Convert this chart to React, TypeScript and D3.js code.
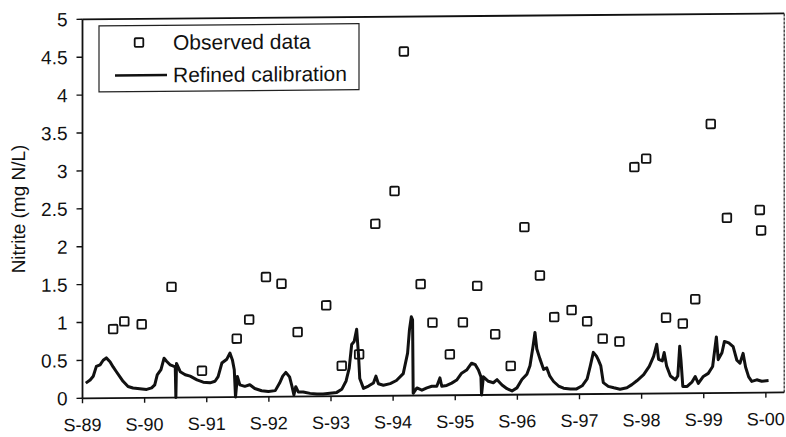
import React from 'react';
import * as d3 from 'd3';

// ---- data ----
const xTickLabels = ['S-89', 'S-90', 'S-91', 'S-92', 'S-93', 'S-94', 'S-95', 'S-96', 'S-97', 'S-98', 'S-99', 'S-00'];
const xTickYears = [1989.667, 1990.667, 1991.667, 1992.667, 1993.667, 1994.667, 1995.667, 1996.667, 1997.667, 1998.667, 1999.667, 2000.667];
const yTicks = [0, 0.5, 1, 1.5, 2, 2.5, 3, 3.5, 4, 4.5, 5];
const yTickLabels = ['0', '0.5', '1', '1.5', '2', '2.5', '3', '3.5', '4', '4.5', '5'];

const obsDates = [1990.16, 1990.34, 1990.62, 1991.10, 1991.59, 1992.15, 1992.35, 1992.62, 1992.87, 1993.13,
  1993.59, 1993.84, 1994.12, 1994.38, 1994.69, 1994.84, 1995.11, 1995.30, 1995.58, 1995.79,
  1996.02, 1996.31, 1996.56, 1996.78, 1997.03, 1997.26, 1997.54, 1997.79, 1998.04, 1998.31,
  1998.55, 1998.74, 1999.06, 1999.33, 1999.53, 1999.78, 2000.04, 2000.57, 2000.59];
const obsValues = [0.91, 1.01, 0.97, 1.46, 0.35, 0.77, 1.02, 1.58, 1.49, 0.85,
  1.20, 0.40, 0.55, 2.27, 2.70, 4.54, 1.47, 0.96, 0.54, 0.96,
  1.44, 0.80, 0.38, 2.21, 1.57, 1.02, 1.11, 0.96, 0.73, 0.69,
  2.99, 3.10, 1.00, 0.92, 1.24, 3.55, 2.31, 2.41, 2.14];

const calDates = [1989.72, 1989.79, 1989.84, 1989.89, 1989.95, 1990.00, 1990.05, 1990.11, 1990.16, 1990.21,
  1990.27, 1990.32, 1990.40, 1990.48, 1990.59, 1990.70, 1990.78, 1990.83, 1990.87, 1990.93,
  1990.98, 1991.02, 1991.08, 1991.14, 1991.16, 1991.17, 1991.18, 1991.24, 1991.32, 1991.40,
  1991.51, 1991.61, 1991.72, 1991.80, 1991.85, 1991.91, 1991.99, 1992.04, 1992.08, 1992.11,
  1992.13, 1992.16, 1992.20, 1992.28, 1992.36, 1992.44, 1992.55, 1992.66, 1992.77, 1992.84,
  1992.89, 1992.94, 1993.00, 1993.04, 1993.07, 1993.10, 1993.14, 1993.22, 1993.33, 1993.44,
  1993.54, 1993.65, 1993.76, 1993.84, 1993.91, 1993.96, 1994.00, 1994.04, 1994.08, 1994.11,
  1994.13, 1994.19, 1994.27, 1994.35, 1994.39, 1994.43, 1994.51, 1994.62, 1994.72, 1994.83,
  1994.90, 1994.93, 1994.96, 1994.98, 1994.99, 1995.05, 1995.13, 1995.21, 1995.29, 1995.37,
  1995.42, 1995.45, 1995.53, 1995.61, 1995.69, 1995.77, 1995.85, 1995.93, 1995.99, 1996.04,
  1996.08, 1996.09, 1996.12, 1996.20, 1996.28, 1996.34, 1996.42, 1996.50, 1996.58, 1996.66,
  1996.74, 1996.82, 1996.87, 1996.92, 1996.95, 1996.98, 1997.03, 1997.09, 1997.14, 1997.19,
  1997.25, 1997.33, 1997.41, 1997.52, 1997.62, 1997.71, 1997.79, 1997.84, 1997.89, 1997.94,
  1997.97, 1998.01, 1998.05, 1998.13, 1998.22, 1998.32, 1998.43, 1998.51, 1998.59, 1998.70,
  1998.79, 1998.86, 1998.91, 1998.94, 1999.00, 1999.03, 1999.07, 1999.13, 1999.21, 1999.25,
  1999.28, 1999.30, 1999.33, 1999.40, 1999.48, 1999.53, 1999.58, 1999.66, 1999.74, 1999.81,
  1999.87, 1999.90, 1999.96, 2000.00, 2000.07, 2000.14, 2000.20, 2000.25, 2000.30, 2000.34,
  2000.39, 2000.44, 2000.52, 2000.60, 2000.71];
const calValues = [0.20, 0.24, 0.29, 0.42, 0.44, 0.50, 0.53, 0.48, 0.41, 0.35,
  0.28, 0.22, 0.15, 0.13, 0.12, 0.11, 0.13, 0.17, 0.30, 0.37,
  0.52, 0.48, 0.43, 0.41, 0.41, 0.00, 0.45, 0.34, 0.30, 0.28,
  0.23, 0.20, 0.19, 0.21, 0.27, 0.45, 0.50, 0.58, 0.49, 0.36,
  0.00, 0.27, 0.16, 0.14, 0.16, 0.11, 0.08, 0.07, 0.08, 0.18,
  0.27, 0.32, 0.26, 0.13, 0.02, 0.13, 0.06, 0.06, 0.04, 0.03,
  0.03, 0.04, 0.05, 0.09, 0.20, 0.37, 0.68, 0.72, 0.88, 0.54,
  0.23, 0.10, 0.13, 0.17, 0.26, 0.16, 0.14, 0.16, 0.20, 0.29,
  0.56, 0.87, 1.04, 1.00, 0.03, 0.10, 0.07, 0.10, 0.12, 0.12,
  0.23, 0.12, 0.13, 0.16, 0.20, 0.29, 0.33, 0.42, 0.40, 0.33,
  0.24, 0.00, 0.24, 0.18, 0.16, 0.20, 0.13, 0.08, 0.05, 0.09,
  0.20, 0.27, 0.38, 0.64, 0.82, 0.60, 0.47, 0.33, 0.35, 0.24,
  0.17, 0.11, 0.08, 0.07, 0.07, 0.11, 0.20, 0.37, 0.55, 0.50,
  0.45, 0.37, 0.15, 0.10, 0.08, 0.06, 0.08, 0.12, 0.17, 0.25,
  0.36, 0.49, 0.65, 0.45, 0.43, 0.54, 0.36, 0.23, 0.18, 0.23,
  0.62, 0.44, 0.09, 0.09, 0.15, 0.22, 0.13, 0.22, 0.26, 0.35,
  0.74, 0.44, 0.53, 0.68, 0.66, 0.61, 0.43, 0.39, 0.52, 0.34,
  0.21, 0.15, 0.17, 0.15, 0.16];

const W = 786;
const H = 437;
const LEFT = 82.5;
const RIGHT = 784.2;
const BOTTOM = 398.3;
const TOP = 19.3;
const FONT = '"Liberation Sans", Arial, Helvetica, sans-serif';

export default function App() {
  const x = d3.scaleLinear().domain([1989.667, 2000.962]).range([LEFT, RIGHT]);
  const y = d3.scaleLinear().domain([0, 5]).range([BOTTOM, TOP]);

  const calData = calDates.map((d, i) => [d, calValues[i]] as [number, number]);
  const line = d3.line<[number, number]>().x(d => x(d[0])).y(d => y(d[1]));
  const sq = 8.6;

  return (
    <svg width={W} height={H} style={{ position: 'absolute', left: 0, top: 0, background: '#fff' }}
      fontFamily={FONT}>
      <rect x={0} y={0} width={W} height={H} fill="#fff" />
      <g transform={`translate(${LEFT} 0) skewY(-0.476) translate(${-LEFT} 0)`}>
        {/* calibration line */}
        <path d={line(calData) || ''} fill="none" stroke="#111" strokeWidth={3} strokeLinejoin="round" />
        {/* observed squares */}
        {obsDates.map((d, i) => (
          <rect key={i} x={x(d) - sq / 2} y={y(obsValues[i]) - sq / 2} width={sq} height={sq}
            fill="none" stroke="#111" strokeWidth={1.8} rx={1} />
        ))}
        {/* frame */}
        <line x1={LEFT} x2={RIGHT} y1={TOP} y2={TOP} stroke="#111" strokeWidth={1.8} />
        <line x1={RIGHT} x2={RIGHT} y1={TOP} y2={BOTTOM} stroke="#222" strokeWidth={1.2} strokeDasharray="3 1" />
        <line x1={LEFT} x2={RIGHT} y1={BOTTOM} y2={BOTTOM} stroke="#111" strokeWidth={1.8} />
        <line x1={LEFT} x2={LEFT} y1={TOP} y2={BOTTOM} stroke="#111" strokeWidth={1.8} />
        {/* y ticks */}
        {yTicks.map((t, i) => (
          <g key={i}>
            <line x1={LEFT - 6} x2={LEFT} y1={y(t)} y2={y(t)} stroke="#111" strokeWidth={1.4} />
            <text x={67.5} y={y(t)} dy="0.36em" textAnchor="end" fontSize={19} fill="#111">{yTickLabels[i]}</text>
          </g>
        ))}
        {/* x ticks */}
        {xTickYears.map((t, i) => (
          <g key={i}>
            <line x1={x(t)} x2={x(t)} y1={BOTTOM} y2={BOTTOM + 5} stroke="#111" strokeWidth={1.4} />
            <text x={x(t)} y={431} textAnchor="middle" fontSize={18} fill="#111">{xTickLabels[i]}</text>
          </g>
        ))}
        {/* y title */}
        <text transform="translate(25 208.5) rotate(-90)" textAnchor="middle" fontSize={19} fill="#111">Nitrite (mg N/L)</text>
        {/* legend */}
        <rect x={99} y={26} width={260} height={66} fill="#fff" stroke="#222" strokeWidth={1.2} />
        <rect x={139 - 4.3} y={43 - 4.3} width={sq} height={sq} fill="none" stroke="#111" strokeWidth={1.8} rx={1} />
        <text x={173} y={50.5} fontSize={21} fill="#111">Observed data</text>
        <line x1={115} x2={167} y1={75.7} y2={75.7} stroke="#111" strokeWidth={2.6} />
        <text x={173} y={83} fontSize={21} fill="#111">Refined calibration</text>
      </g>
    </svg>
  );
}
